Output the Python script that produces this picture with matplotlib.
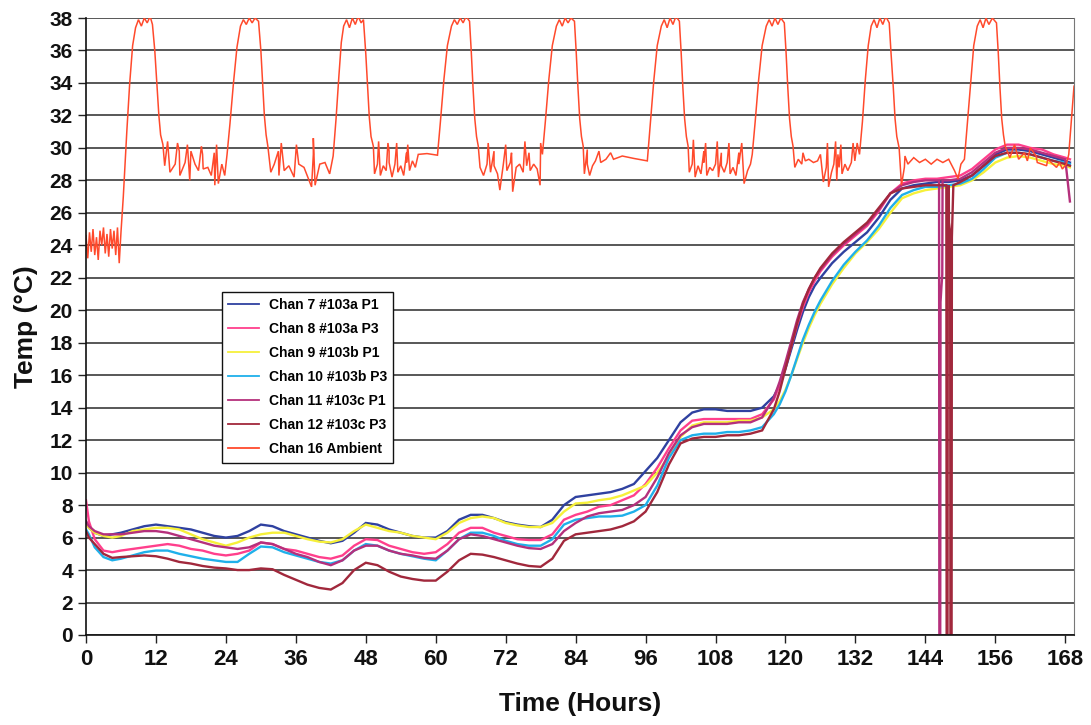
import numpy as np
import matplotlib
matplotlib.use("Agg")
import matplotlib.pyplot as plt

plt.rcParams['font.family'] = ['Liberation Sans', 'DejaVu Sans']
plt.rcParams['font.weight'] = 'bold'

# ---------------- data ----------------
hours = [0, 0.5, 1.5, 3, 4.5, 6,
         8, 10, 12, 14, 16, 18, 20, 22, 24, 26,
         28, 30, 32, 34, 36, 38, 40, 42, 44, 46,
         48, 50, 52, 54, 56, 58, 60, 62, 64, 66,
         68, 70, 72, 74, 76, 78, 80, 82, 84, 86,
         88, 90, 92, 94, 96, 98, 100, 102, 104, 106,
         108, 110, 112, 114, 116, 118,
         119, 120, 121, 122, 123, 124, 125,
         126, 128, 130, 132, 134, 136, 138, 140, 142, 144, 146,
         148, 150, 152, 154, 156, 158, 160, 162, 164, 166, 168,
         168.8]

chan7 = [7.0, 6.6, 6.3, 6.1, 6.2, 6.3,
         6.5, 6.7, 6.8, 6.7, 6.6, 6.5, 6.3, 6.1, 6.0, 6.1,
         6.4, 6.8, 6.7, 6.4, 6.2, 6.0, 5.8, 5.65, 5.8, 6.3,
         6.9, 6.8, 6.5, 6.3, 6.1, 6.0, 6.0, 6.4, 7.1, 7.4,
         7.4, 7.2, 6.95, 6.8, 6.7, 6.65, 7.1, 8.0, 8.5, 8.6,
         8.7, 8.8, 9.0, 9.3, 10.1, 10.9, 12.0, 13.1, 13.7, 13.9,
         13.9, 13.8, 13.8, 13.8, 14.0, 14.7,
         15.4, 16.4, 17.6, 18.8, 19.9, 20.8, 21.5,
         22.0, 22.9, 23.6, 24.2, 24.8, 25.7, 26.8, 27.5, 27.7, 27.8, 27.9,
         27.9, 28.0, 28.3, 28.9, 29.6, 29.9, 29.9, 29.8, 29.6, 29.4, 29.2,
         29.1]

chan8 = [8.3, 7.0, 5.9, 5.2, 5.1, 5.2,
         5.3, 5.4, 5.5, 5.6, 5.5, 5.3, 5.2, 5.0, 4.9, 5.0,
         5.2, 5.7, 5.6, 5.3, 5.2, 5.0, 4.8, 4.7, 4.9, 5.5,
         5.9, 5.85, 5.5, 5.3, 5.1, 5.0, 5.1, 5.6, 6.3, 6.6,
         6.6, 6.3, 6.1, 5.9, 5.85, 5.85, 6.2, 7.1, 7.4, 7.6,
         7.9, 8.0, 8.3, 8.6, 9.3, 10.3, 11.5, 12.6, 13.2, 13.3,
         13.3, 13.3, 13.3, 13.3, 13.6, 14.5,
         15.4, 16.5, 17.8, 19.1, 20.2, 21.1, 21.8,
         22.4, 23.3, 24.0, 24.6, 25.2, 26.1, 27.2, 27.8, 28.0, 28.1, 28.1,
         28.2, 28.3, 28.7, 29.3, 29.9, 30.2, 30.2, 30.0, 29.9, 29.6, 29.4,
         29.3]

chan9 = [6.8, 6.6, 6.3, 6.1, 6.0, 6.1,
         6.4, 6.5, 6.6, 6.6, 6.5, 6.2, 5.9, 5.7, 5.5, 5.7,
         6.0, 6.2, 6.3, 6.3, 6.1, 5.9, 5.75, 5.7, 5.9, 6.4,
         6.8, 6.6, 6.4, 6.3, 6.1, 6.0, 5.9, 6.3, 6.9, 7.2,
         7.3, 7.2, 6.9, 6.75, 6.65, 6.65, 6.9, 7.6, 8.1, 8.15,
         8.3, 8.4, 8.6, 8.9, 9.2, 10.0, 11.0, 12.2, 12.9, 13.1,
         13.1, 13.1, 13.2, 13.2, 13.4, 13.9,
         14.4, 15.1, 16.0, 17.0, 18.0, 18.9, 19.7,
         20.4, 21.6, 22.6, 23.5, 24.2, 25.0, 26.0, 26.9, 27.2, 27.4, 27.5,
         27.6, 27.7, 28.0, 28.5, 29.1, 29.4, 29.5, 29.4, 29.2, 29.0, 28.9,
         28.8]

chan10 = [6.5, 6.2, 5.4, 4.8, 4.6, 4.7,
          4.9, 5.1, 5.2, 5.2, 5.0, 4.85, 4.7, 4.6, 4.5, 4.5,
          5.0, 5.45, 5.4, 5.1, 4.9, 4.7, 4.5, 4.4, 4.6, 5.2,
          5.6, 5.5, 5.2, 5.0, 4.85, 4.7, 4.6, 5.2, 5.9, 6.3,
          6.3, 6.1, 5.8, 5.6, 5.5, 5.5, 5.9, 6.8, 7.1, 7.2,
          7.3, 7.3, 7.35, 7.6, 8.0, 9.2, 10.9, 12.0, 12.3, 12.4,
          12.4, 12.5, 12.5, 12.6, 12.8, 13.6,
          14.2, 15.0, 16.0, 17.1, 18.2, 19.1, 19.9,
          20.6, 21.8, 22.8, 23.6, 24.3, 25.2, 26.3, 27.1, 27.4, 27.6, 27.6,
          27.7, 27.8, 28.1, 28.7, 29.4, 29.7, 29.7, 29.6, 29.4, 29.2, 29.1,
          29.0]

chan11 = [7.0, 6.7, 6.4, 6.2, 6.2, 6.2,
          6.3, 6.4, 6.4, 6.3, 6.1, 5.9, 5.7, 5.5, 5.4, 5.3,
          5.4, 5.7, 5.6, 5.3, 5.0, 4.8, 4.5, 4.3, 4.6, 5.2,
          5.5, 5.5, 5.2, 5.0, 4.9, 4.75, 4.7, 5.2, 5.9, 6.2,
          6.1, 5.9, 5.7, 5.5, 5.35, 5.3, 5.6, 6.4, 6.9, 7.3,
          7.5, 7.6, 7.7, 8.0, 8.5, 9.7, 11.2, 12.3, 12.8, 13.0,
          13.0, 13.0, 13.1, 13.1, 13.4, 14.6,
          15.6, 16.8, 18.1, 19.4, 20.5, 21.3, 22.0,
          22.5, 23.4, 24.1, 24.7, 25.3, 26.2, 27.2, 27.7, 27.9, 28.0, 28.0,
          28.0, 28.1, 28.5, 29.1, 29.7, 30.0, 30.0, 29.9, 29.7, 29.5, 29.3,
          26.7]

chan12 = [6.4, 6.0, 5.6, 5.0, 4.75, 4.8,
          4.85, 4.9, 4.85, 4.7, 4.5, 4.4, 4.25, 4.15, 4.1, 4.0,
          4.0, 4.1, 4.05, 3.7, 3.4, 3.1, 2.9, 2.8, 3.2, 4.0,
          4.45, 4.3, 3.9, 3.6, 3.45, 3.35, 3.35, 3.9, 4.6, 5.0,
          4.95, 4.8, 4.6, 4.4, 4.25, 4.2, 4.7, 5.8, 6.2, 6.3,
          6.4, 6.5, 6.7, 7.0, 7.6, 8.8, 10.5, 11.8, 12.1, 12.2,
          12.2, 12.3, 12.3, 12.4, 12.6, 13.9,
          15.0, 16.4, 17.8, 19.2, 20.4, 21.3, 22.0,
          22.6, 23.5, 24.2, 24.8, 25.4, 26.3, 27.2, 27.5, 27.6, 27.7, 27.7,
          27.7, 27.9, 28.3, 28.9, 29.5, 29.7, 29.7, 29.6, 29.4, 29.2, 29.0,
          28.9]

# sensor drop-outs near 146-149 h
chan11_glitch_t = [146.35, 146.4, 146.55, 146.6, 146.75, 146.9, 146.95]
chan11_glitch_v = [28.0, 0.0, 0.0, 20.5, 21.4, 22.2, 28.0]
chan12_glitch_t = [147.6, 147.65, 147.8, 147.85, 148.05, 148.25, 148.3, 148.5, 148.55, 148.8]
chan12_glitch_v = [27.7, 0.0, 0.0, 24.3, 25.4, 24.8, 0.0, 0.0, 24.5, 27.7]

# ambient: main trace
amb_t = [0.0, 0.3, 0.6, 0.9, 1.2, 1.5, 1.8, 2.1, 2.4, 2.7, 3.0, 3.3, 3.6, 3.9, 4.2, 4.5,
         4.8, 5.1, 5.4, 5.7, 6.0,
         6.4, 7.0, 7.5, 8.0, 8.5, 9.0, 9.5, 10.0, 10.5, 11.0, 11.4,
         11.8, 12.1, 12.5, 12.8, 13.2, 16.0, 18.0, 20.0, 22.0, 24.2,
         24.7, 25.3, 25.9, 26.5, 27.0, 27.5, 28.0, 28.5, 29.0, 29.6,
         30.0, 30.3, 30.6, 30.9, 31.2, 33.0, 36.0, 39.0, 42.4,
         42.9, 43.4, 43.8, 44.2, 44.7, 45.2, 45.7, 46.2, 46.7, 47.2, 47.6,
         48.0, 48.3, 48.6, 48.9, 49.3, 52.0, 55.0, 57.0, 58.5, 60.3,
         60.8, 61.4, 62.0, 62.7, 63.2, 63.7, 64.2, 64.7, 65.2, 65.8,
         66.1, 66.4, 66.7, 67.0, 67.3, 70.0, 73.0, 76.0, 78.3,
         78.8, 79.4, 80.0, 80.7, 81.2, 81.7, 82.2, 82.7, 83.2, 83.8,
         84.1, 84.4, 84.7, 85.0, 85.3, 86.0, 88.0, 90.0, 92.0, 94.0, 96.3,
         96.8, 97.4, 98.0, 98.7, 99.2, 99.7, 100.2, 100.7, 101.2, 101.8,
         102.1, 102.4, 102.7, 103.0, 103.3, 106.0, 109.0, 112.0, 114.3,
         114.8, 115.4, 116.0, 116.7, 117.2, 117.7, 118.2, 118.7, 119.2, 119.8,
         120.1, 120.4, 120.7, 121.0, 121.3, 123.0, 126.0, 129.0, 132.7,
         133.2, 133.7, 134.2, 134.7, 135.2, 135.7, 136.2, 136.7, 137.2, 137.8,
         138.1, 138.5, 138.8, 139.1, 139.5, 140.5, 142.0, 144.0, 146.0, 148.0, 150.7,
         151.2, 151.8, 152.3, 152.9, 153.4, 153.9, 154.4, 154.9, 155.5, 156.2,
         156.5, 156.8, 157.1, 157.4, 157.7, 159.0, 161.0, 163.0, 165.0, 167.0,
         168.2, 168.6, 169.0, 169.5]
amb_v = [24.6, 23.2, 24.8, 23.6, 25.0, 23.4, 24.5, 23.1, 24.9, 24.0, 25.1, 23.5, 24.7, 23.3, 25.0, 23.8,
         24.9, 23.4, 25.1, 22.9, 24.8,
         27.0, 31.0, 34.0, 36.3, 37.4, 37.9, 37.5, 38.0, 37.7, 38.1, 37.6,
         36.0, 34.3, 32.0, 30.8, 30.2, 29.8, 29.8, 29.6, 29.7, 29.6,
         31.5, 34.0, 36.2, 37.5, 37.9, 37.6, 38.0, 37.7, 38.0, 37.8,
         36.0, 34.0, 32.0, 30.8, 30.1, 29.8, 29.7, 29.6, 29.5,
         31.8, 34.5, 36.5, 37.5, 37.9, 37.4, 38.0, 37.6, 38.1, 37.7, 37.9,
         35.8, 33.8, 31.9, 30.7, 30.1, 29.8, 29.7, 29.6, 29.65, 29.55,
         31.6, 34.2, 36.3, 37.5, 37.9, 37.6, 38.0, 37.7, 38.1, 37.8,
         35.9, 33.7, 31.8, 30.7, 30.1, 29.8, 29.7, 29.7, 29.6,
         31.6, 34.2, 36.3, 37.5, 37.9, 37.5, 38.0, 37.7, 38.0, 37.8,
         35.9, 33.7, 31.8, 30.7, 30.1, 29.9, 29.8, 29.7, 29.5, 29.35, 29.2,
         31.4, 34.1, 36.3, 37.5, 37.9, 37.4, 38.0, 37.6, 38.1, 37.8,
         35.9, 33.7, 31.8, 30.7, 30.1, 29.8, 29.7, 29.7, 29.6,
         31.6, 34.2, 36.3, 37.5, 37.9, 37.5, 38.0, 37.6, 38.0, 37.7,
         35.9, 33.7, 31.8, 30.7, 30.1, 29.7, 29.6, 29.6, 29.6,
         31.6, 34.2, 36.3, 37.5, 37.9, 37.4, 38.0, 37.6, 38.1, 37.7,
         35.9, 33.7, 31.8, 30.7, 30.0, 29.5, 29.4, 29.3, 29.3, 29.3, 29.3,
         31.5, 34.1, 36.3, 37.5, 37.9, 37.4, 38.0, 37.6, 38.0, 37.7,
         35.9, 33.7, 31.8, 30.8, 30.1, 29.9, 29.7, 29.5, 29.3, 29.1,
         29.0, 29.6, 31.5, 33.8]

# ambient: short spikes (noise)
amb_spike_t = [13.5, 14.0, 14.4, 15.3, 15.7, 16.1, 17.0, 17.4, 17.8, 18.7, 19.3, 19.8, 20.1, 20.9,
               21.5, 22.1, 22.4, 22.7, 23.3, 23.8,
               31.7, 32.3, 33.1, 33.5, 34.0, 34.8, 35.7, 36.1, 36.5, 37.4, 38.7, 39.0, 39.3,
               40.1, 41.0, 41.8,
               49.5, 50.0, 50.2, 50.5, 51.0, 51.5, 51.8, 52.0, 52.5, 53.0, 53.3, 53.5, 54.0,
               54.5, 55.0, 55.2, 55.5, 56.0, 56.5,
               67.6, 68.2, 68.8, 69.0, 69.4, 70.0, 70.6, 71.0, 71.6, 72.0, 72.2, 72.8, 73.2,
               73.8, 74.4, 75.0, 75.3, 75.6, 76.2, 76.8, 77.4, 77.9, 78.0,
               85.5, 86.0, 86.4, 86.9, 87.4, 88.3, 89.2, 90.5,
               103.5, 104.0, 104.2, 104.5, 105.0, 105.5, 106.0, 106.3, 106.5, 107.0, 107.5,
               108.0, 108.3, 108.5, 109.0, 109.5, 110.0, 110.3, 110.5, 111.0, 111.5, 112.0,
               112.5, 112.9, 113.5, 114.0,
               121.6, 122.2, 122.8, 123.4, 124.0, 124.8, 125.5, 126.5, 127.0, 127.2, 127.4,
               127.9, 128.3, 128.6, 128.8, 129.2, 129.5, 129.7, 130.2, 130.7, 131.3, 131.6,
               131.9, 132.3,
               139.9, 140.4, 141.0, 143.0, 145.0, 147.0, 149.0, 149.6, 150.1,
               158.5, 159.3, 160.0, 161.5, 162.0, 163.2, 164.8, 166.5, 167.5]
amb_spike_v = [28.9, 30.4, 28.5, 29.0, 30.3, 28.3, 29.1, 30.2, 28.0, 29.0, 28.6, 30.1, 28.7, 28.8,
               28.3, 27.7, 30.2, 27.8, 29.0, 28.3,
               28.5, 29.0, 28.3, 30.3, 28.6, 28.9, 28.2, 30.2, 29.0, 28.8, 27.6, 30.6, 27.7,
               29.0, 29.1, 28.4,
               28.4, 29.0, 30.4, 28.3, 28.9, 28.6, 30.3, 29.1, 28.2, 29.0, 30.3, 28.5, 28.9,
               28.3, 29.1, 30.2, 28.6, 29.2, 28.8,
               28.8, 28.3, 29.0, 30.3, 28.5, 28.9, 28.4, 27.4, 29.0, 30.2, 28.6, 29.1, 27.3,
               28.8, 29.0, 28.5, 30.4, 28.9, 28.6, 29.0, 28.7, 27.7, 30.3,
               28.4, 29.0, 28.3, 28.9, 29.2, 29.1, 29.3, 29.3,
               28.5, 29.0, 30.5, 28.2, 28.9, 28.4, 29.1, 30.3, 28.3, 28.8, 28.6,
               29.0, 30.4, 28.2, 28.9, 28.5, 29.1, 30.3, 28.4, 28.8, 28.3, 29.0,
               30.3, 27.8, 28.6, 29.0,
               28.8, 29.3, 29.0, 29.2, 29.3, 29.1, 29.2, 27.9, 28.8, 30.3, 27.6,
               28.5, 29.0, 30.4, 28.0, 28.8, 30.2, 28.4, 29.0, 28.6, 29.1, 30.3,
               29.2, 30.3,
               27.7, 28.8, 29.0, 29.1, 29.0, 29.1, 28.6, 28.1, 29.0,
               29.4, 30.2, 29.3, 29.2, 30.0, 29.1, 28.9, 28.8, 28.7]

labels = ["Chan 7 #103a P1", "Chan 8 #103a P3", "Chan 9 #103b P1", "Chan 10 #103b P3",
          "Chan 11 #103c P1", "Chan 12 #103c P3", "Chan 16 Ambient"]
colors = ["#2f41a0", "#ff3f8c", "#f6f03a", "#1fb0ea", "#b5307c", "#a1283c", "#ff4a2c"]

x_ticks = list(range(0, 169, 12))
y_ticks = list(range(0, 39, 2))


def merged(t_base, v_base, t_extra, v_extra):
    t = np.concatenate([np.asarray(t_base, float), np.asarray(t_extra, float)])
    v = np.concatenate([np.asarray(v_base, float), np.asarray(v_extra, float)])
    order = np.argsort(t, kind="stable")
    return t[order], v[order]


# ---------------- figure ----------------
fig = plt.figure(figsize=(10.91, 7.25), dpi=100)
ax = fig.add_axes([86 / 1091, 90 / 725, (1074 - 86) / 1091, (635 - 18) / 725])

series = [
    (np.asarray(hours), np.asarray(chan7)),
    (np.asarray(hours), np.asarray(chan8)),
    (np.asarray(hours), np.asarray(chan9)),
    (np.asarray(hours), np.asarray(chan10)),
    merged(hours, chan11, chan11_glitch_t, chan11_glitch_v),
    merged(hours, chan12, chan12_glitch_t, chan12_glitch_v),
    merged(amb_t, amb_v, amb_spike_t, amb_spike_v),
]
widths = [1.7, 1.7, 1.7, 1.7, 1.7, 1.7, 1.1]
for (t, v), lab, col, lw in zip(series, labels, colors, widths):
    ax.plot(t, v, color=col, lw=lw, label=lab, solid_joinstyle='miter')

ax.set_xlim(0, 169.5)
ax.set_ylim(0, 38)
ax.set_xticks(x_ticks)
ax.set_yticks(y_ticks)
ax.yaxis.grid(True, color="#2a2a2a", lw=1.1)
ax.set_axisbelow(True)
ax.tick_params(axis='both', direction='out', length=6, width=1, colors='#222222',
               labelcolor='#111111')
ax.tick_params(axis='x', pad=4)
for lab in ax.get_yticklabels():
    lab.set_fontweight('bold')
    lab.set_fontsize(15)
for lab in ax.get_xticklabels():
    lab.set_fontweight('bold')
    lab.set_fontsize(16)

for s in ['left', 'bottom']:
    ax.spines[s].set_color('#111111')
    ax.spines[s].set_linewidth(1.2)
ax.spines['top'].set_visible(False)
ax.spines['right'].set_color('#777777')
ax.spines['right'].set_linewidth(0.8)

ax.set_xlabel("Time (Hours)", fontsize=19, fontweight='bold', labelpad=16, color='#111111')
ax.set_ylabel("Temp (°C)", fontsize=19, fontweight='bold', labelpad=8, color='#111111')

leg = ax.legend(loc='upper left', bbox_to_anchor=((222 - 86) / 988, (635 - 292) / 617),
                borderaxespad=0, frameon=True, fancybox=False, shadow=False,
                prop={'size': 10, 'weight': 'bold'}, handlelength=2.2, handletextpad=0.7,
                labelspacing=0.72, borderpad=0.45, framealpha=1)
leg.get_frame().set_edgecolor('#111111')
leg.get_frame().set_linewidth(1.0)
for line in leg.get_lines():
    line.set_linewidth(1.3)

fig.savefig("out.png", dpi=100, facecolor='white')
